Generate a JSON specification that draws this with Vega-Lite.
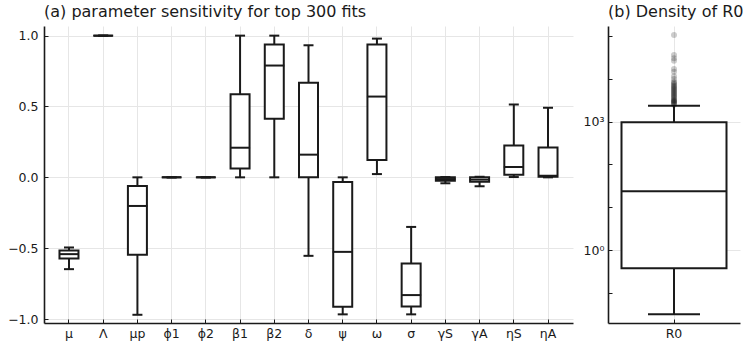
{
  "$schema": "https://vega.github.io/schema/vega-lite/v6.json",
  "padding": {"left": 7, "top": 4, "right": 5, "bottom": 2},
  "spacing": 10,
  "config": {
    "font": "DejaVu Sans",
    "view": {"stroke": null},
    "axis": {
      "domainColor": "#1a1a1a", "domainWidth": 1.6,
      "tickColor": "#1a1a1a", "tickWidth": 1,
      "gridColor": "#e6e6e6", "gridWidth": 1,
      "labelColor": "#1a1a1a", "labelFontSize": 12.5, "labelFont": "DejaVu Sans",
      "title": null
    },
    "title": {"font": "DejaVu Sans", "fontSize": 16, "fontWeight": "normal", "color": "#1a1a1a", "anchor": "start", "frame": "group", "offset": 6}
  },
  "datasets": {
    "params": [
      {"p": "μ", "lo": -0.648, "q1": -0.573, "med": -0.542, "q3": -0.516, "hi": -0.495},
      {"p": "Λ", "lo": 1.0, "q1": 1.0, "med": 1.0, "q3": 1.0, "hi": 1.0},
      {"p": "μp", "lo": -0.970, "q1": -0.547, "med": -0.202, "q3": -0.061, "hi": 0.0},
      {"p": "ϕ1", "lo": 0.0, "q1": 0.0, "med": 0.0, "q3": 0.0, "hi": 0.0},
      {"p": "ϕ2", "lo": 0.0, "q1": 0.0, "med": 0.0, "q3": 0.0, "hi": 0.0},
      {"p": "β1", "lo": 0.0, "q1": 0.063, "med": 0.209, "q3": 0.587, "hi": 1.0},
      {"p": "β2", "lo": 0.0, "q1": 0.413, "med": 0.789, "q3": 0.937, "hi": 1.0},
      {"p": "δ", "lo": -0.554, "q1": 0.0, "med": 0.160, "q3": 0.667, "hi": 0.932},
      {"p": "ψ", "lo": -0.967, "q1": -0.913, "med": -0.526, "q3": -0.033, "hi": 0.0},
      {"p": "ω", "lo": 0.023, "q1": 0.122, "med": 0.570, "q3": 0.937, "hi": 0.979},
      {"p": "σ", "lo": -0.967, "q1": -0.911, "med": -0.831, "q3": -0.608, "hi": -0.350},
      {"p": "γS", "lo": -0.042, "q1": -0.024, "med": -0.012, "q3": 0.0, "hi": 0.002},
      {"p": "γA", "lo": -0.063, "q1": -0.031, "med": -0.016, "q3": 0.0, "hi": 0.004},
      {"p": "ηS", "lo": 0.002, "q1": 0.018, "med": 0.073, "q3": 0.225, "hi": 0.514},
      {"p": "ηA", "lo": 0.0, "q1": 0.004, "med": 0.012, "q3": 0.211, "hi": 0.491}
    ],
    "r0box": [
      {"name": "R0", "lo": 0.0314, "q1": 0.373, "med": 23.6, "q3": 968, "hi": 2365}
    ],
    "r0out": [
      {"name": "R0", "v": 2500}, {"name": "R0", "v": 2620}, {"name": "R0", "v": 2750},
      {"name": "R0", "v": 2840}, {"name": "R0", "v": 2950}, {"name": "R0", "v": 3050},
      {"name": "R0", "v": 3160}, {"name": "R0", "v": 3300}, {"name": "R0", "v": 3520},
      {"name": "R0", "v": 3700}, {"name": "R0", "v": 3920}, {"name": "R0", "v": 4150},
      {"name": "R0", "v": 4370}, {"name": "R0", "v": 4600}, {"name": "R0", "v": 4860},
      {"name": "R0", "v": 5150}, {"name": "R0", "v": 5420}, {"name": "R0", "v": 5700},
      {"name": "R0", "v": 6030}, {"name": "R0", "v": 6400}, {"name": "R0", "v": 6710},
      {"name": "R0", "v": 7100}, {"name": "R0", "v": 7590}, {"name": "R0", "v": 8100},
      {"name": "R0", "v": 8610}, {"name": "R0", "v": 9950}, {"name": "R0", "v": 11500},
      {"name": "R0", "v": 14700}, {"name": "R0", "v": 17000}, {"name": "R0", "v": 26600},
      {"name": "R0", "v": 30200}, {"name": "R0", "v": 36100}, {"name": "R0", "v": 106000}
    ]
  },
  "hconcat": [
    {
      "width": 529,
      "height": 297,
      "title": {"text": "(a) parameter sensitivity for top 300 fits"},
      "data": {"name": "params"},
      "encoding": {
        "x": {
          "field": "p", "type": "nominal", "sort": null,
          "scale": {"type": "band", "paddingInner": 0.4, "paddingOuter": 0.43},
          "axis": {"labelAngle": 0, "grid": true, "bandPosition": 0.5, "tickSize": -4, "labelPadding": 8}
        }
      },
      "layer": [
        {
          "mark": {"type": "rule", "color": "#1a1a1a", "strokeWidth": 2},
          "encoding": {
            "y": {
              "field": "lo", "type": "quantitative",
              "scale": {"domain": [-1.028, 1.068], "nice": false, "zero": false},
              "axis": {"values": [-1, -0.5, 0, 0.5, 1], "format": ".1f", "grid": true, "tickSize": -4, "labelPadding": 10}
            },
            "y2": {"field": "hi"}
          }
        },
        {
          "mark": {"type": "bar", "size": 19, "fill": "white", "stroke": "#1a1a1a", "strokeWidth": 2},
          "encoding": {
            "y": {"field": "q1", "type": "quantitative"},
            "y2": {"field": "q3"}
          }
        },
        {
          "mark": {"type": "tick", "size": 20, "thickness": 2, "color": "#1a1a1a", "opacity": 1},
          "encoding": {"y": {"field": "med", "type": "quantitative"}}
        },
        {
          "mark": {"type": "tick", "size": 10, "thickness": 2, "color": "#1a1a1a", "opacity": 1},
          "encoding": {"y": {"field": "lo", "type": "quantitative"}}
        },
        {
          "mark": {"type": "tick", "size": 10, "thickness": 2, "color": "#1a1a1a", "opacity": 1},
          "encoding": {"y": {"field": "hi", "type": "quantitative"}}
        }
      ]
    },
    {
      "width": 132,
      "height": 297,
      "title": {"text": "(b) Density of R0"},
      "encoding": {
        "x": {
          "field": "name", "type": "nominal",
          "scale": {"type": "band", "paddingInner": 0, "paddingOuter": 0},
          "axis": {"labelAngle": 0, "grid": true, "bandPosition": 0.5, "tickSize": -4, "labelPadding": 8}
        }
      },
      "layer": [
        {
          "data": {"name": "r0box"},
          "mark": {"type": "rule", "color": "#1a1a1a", "strokeWidth": 2},
          "encoding": {
            "y": {
              "field": "lo", "type": "quantitative",
              "scale": {"type": "log", "domain": [0.0197, 172000], "nice": false},
              "axis": {
                "values": [0.1, 1, 10, 100, 1000, 10000, 100000],
                "labelExpr": "datum.value == 1 ? '10⁰' : (datum.value == 1000 ? '10³' : '')",
                "grid": true,
                "gridOpacity": {"condition": {"test": "datum.value == 1 || datum.value == 1000", "value": 1}, "value": 0},
                "tickSize": -4, "labelPadding": 8
              }
            },
            "y2": {"field": "hi"}
          }
        },
        {
          "data": {"name": "r0box"},
          "mark": {"type": "bar", "size": 105, "fill": "white", "stroke": "#1a1a1a", "strokeWidth": 2},
          "encoding": {
            "y": {"field": "q1", "type": "quantitative"},
            "y2": {"field": "q3"}
          }
        },
        {
          "data": {"name": "r0box"},
          "mark": {"type": "tick", "size": 106, "thickness": 2, "color": "#1a1a1a", "opacity": 1},
          "encoding": {"y": {"field": "med", "type": "quantitative"}}
        },
        {
          "data": {"name": "r0box"},
          "mark": {"type": "tick", "size": 52, "thickness": 2, "color": "#1a1a1a", "opacity": 1},
          "encoding": {"y": {"field": "lo", "type": "quantitative"}}
        },
        {
          "data": {"name": "r0box"},
          "mark": {"type": "tick", "size": 52, "thickness": 2, "color": "#1a1a1a", "opacity": 1},
          "encoding": {"y": {"field": "hi", "type": "quantitative"}}
        },
        {
          "data": {"name": "r0out"},
          "mark": {"type": "circle", "size": 36, "color": "#000000", "opacity": 0.2},
          "encoding": {"y": {"field": "v", "type": "quantitative"}}
        }
      ]
    }
  ]
}
